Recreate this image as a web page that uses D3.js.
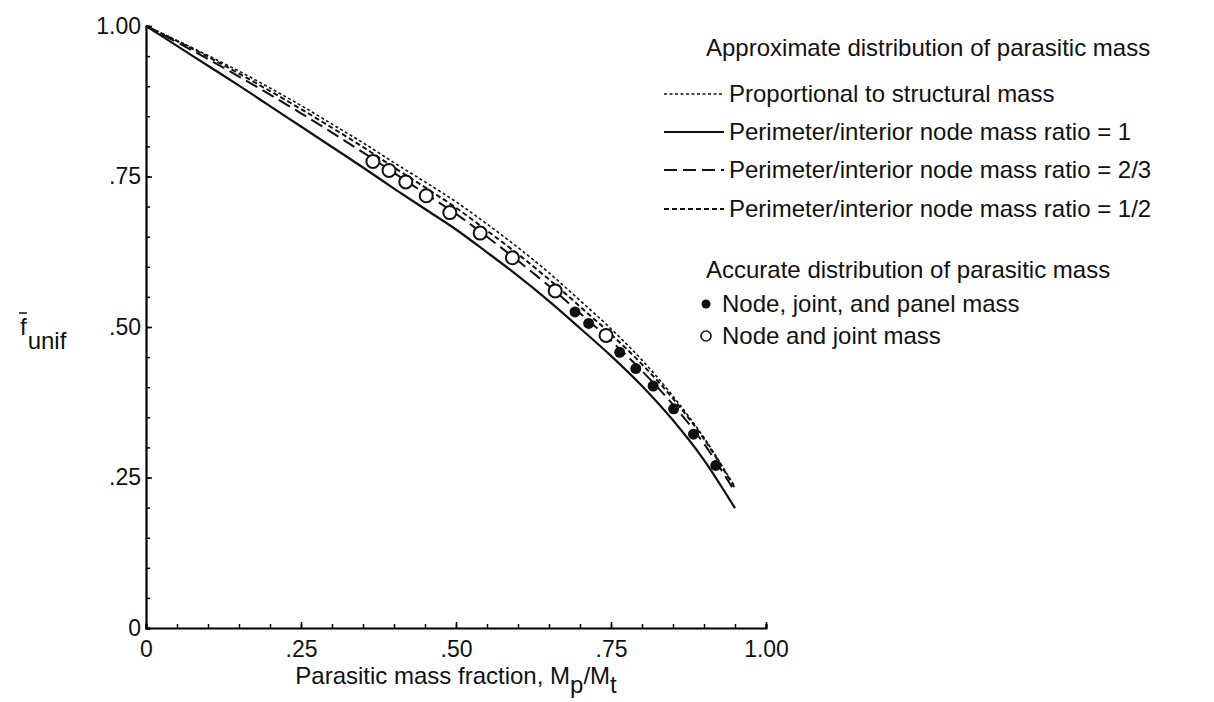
<!DOCTYPE html>
<html>
<head>
<meta charset="utf-8">
<script src="https://cdn.jsdelivr.net/npm/d3@7"></script>
<style>
  body { margin: 0; background: #fff; }
  svg text { font-family: "Liberation Sans", Arial, Helvetica, sans-serif; fill: #111; }
</style>
</head>
<body>
<div id="chart"></div>
<script>
// parasitic mass fraction Mp/Mt (x) for the approximate curves
const massFrac = [0, 0.05, 0.10, 0.15, 0.20, 0.25, 0.30, 0.35, 0.40, 0.45,
  0.50, 0.55, 0.60, 0.65, 0.70, 0.75, 0.80, 0.85, 0.90, 0.95];

// approximate distributions of parasitic mass
const propStruct = [1.000, 0.976, 0.951, 0.925, 0.897, 0.868, 0.837, 0.806, 0.773, 0.741,
  0.708, 0.671, 0.632, 0.590, 0.544, 0.497, 0.445, 0.385, 0.316, 0.234];
const ratioOne = [1.000, 0.967, 0.934, 0.901, 0.867, 0.833, 0.799, 0.765, 0.730, 0.696,
  0.662, 0.624, 0.585, 0.543, 0.498, 0.452, 0.402, 0.345, 0.279, 0.199];
const ratioTwoThirds = [1.000, 0.973, 0.945, 0.916, 0.886, 0.855, 0.823, 0.790, 0.756, 0.722,
  0.688, 0.650, 0.610, 0.568, 0.523, 0.477, 0.427, 0.371, 0.306, 0.226];
const ratioHalf = [1.000, 0.975, 0.949, 0.921, 0.892, 0.862, 0.831, 0.799, 0.765, 0.732,
  0.698, 0.660, 0.621, 0.579, 0.534, 0.488, 0.438, 0.381, 0.314, 0.232];

// accurate distributions (symbols)
const panelX = [0.692, 0.714, 0.764, 0.790, 0.818, 0.851, 0.883, 0.919];
const panelY = [0.525, 0.506, 0.458, 0.431, 0.402, 0.364, 0.322, 0.270];
const jointX = [0.366, 0.392, 0.419, 0.452, 0.490, 0.539, 0.591, 0.660, 0.742];
const jointY = [0.775, 0.760, 0.741, 0.718, 0.690, 0.656, 0.615, 0.560, 0.486];

const majorTicks = [0, 0.25, 0.5, 0.75, 1];
const tickLabels = ['0', '.25', '.50', '.75', '1.00'];
const minorTicks = d3.range(0, 1.0001, 0.05);

const width = 1214, height = 702;
const tickFont = 23;
const textFont = 24;

const svg = d3.select('#chart').append('svg')
  .attr('width', width).attr('height', height);

const x = d3.scaleLinear().domain([0, 1]).range([146, 766]);
const y = d3.scaleLinear().domain([0, 1]).range([628, 26]);

// axes, ticks pointing inward
const fmt = (d) => tickLabels[majorTicks.indexOf(d)];

const xAxis = svg.append('g').attr('transform', `translate(0,${y(0)})`);
xAxis.call(d3.axisBottom(x).tickValues(minorTicks).tickSize(-4).tickFormat(''));
xAxis.call((g) => g.selectAll('.tick line').attr('stroke-width', 1.5));
xAxis.select('.domain').attr('stroke-width', 2.2);
const xLab = svg.append('g').attr('transform', `translate(0,${y(0)})`)
  .call(d3.axisBottom(x).tickValues(majorTicks).tickSize(-6).tickPadding(13).tickFormat(fmt));
xLab.select('.domain').remove();
xLab.selectAll('.tick line').attr('stroke-width', 1.5);
xLab.selectAll('text').attr('font-size', tickFont).attr('fill', '#111');

const yAxis = svg.append('g').attr('transform', `translate(${x(0)},0)`);
yAxis.call(d3.axisLeft(y).tickValues(minorTicks).tickSize(-4).tickFormat(''));
yAxis.call((g) => g.selectAll('.tick line').attr('stroke-width', 1.5));
yAxis.select('.domain').attr('stroke-width', 2.2);
const yLab = svg.append('g').attr('transform', `translate(${x(0)},0)`)
  .call(d3.axisLeft(y).tickValues(majorTicks).tickSize(-6).tickPadding(5).tickFormat(fmt));
yLab.select('.domain').remove();
yLab.selectAll('.tick line').attr('stroke-width', 1.5);
yLab.selectAll('text').attr('font-size', tickFont).attr('fill', '#111');

// curves
const series = [
  { name: 'Proportional to structural mass', values: propStruct, dash: '3,2.5', w: 1.6 },
  { name: 'Perimeter/interior node mass ratio = 1', values: ratioOne, dash: null, w: 2.2 },
  { name: 'Perimeter/interior node mass ratio = 2/3', values: ratioTwoThirds, dash: '13,6', w: 2 },
  { name: 'Perimeter/interior node mass ratio = 1/2', values: ratioHalf, dash: '5,3', w: 2 },
];

const line = d3.line()
  .x((d) => x(d[0]))
  .y((d) => y(d[1]))
  .curve(d3.curveMonotoneX);

svg.append('g').selectAll('path')
  .data(series)
  .enter()
  .append('path')
  .attr('d', (s) => line(massFrac.map((m, i) => [m, s.values[i]])))
  .attr('fill', 'none')
  .attr('stroke', '#111')
  .attr('stroke-width', (s) => s.w)
  .attr('stroke-dasharray', (s) => s.dash);

// symbols
svg.append('g').selectAll('circle')
  .data(panelX.map((v, i) => [v, panelY[i]]))
  .enter()
  .append('circle')
  .attr('cx', (d) => x(d[0]))
  .attr('cy', (d) => y(d[1]))
  .attr('r', 5.5)
  .attr('fill', '#111');

svg.append('g').selectAll('circle')
  .data(jointX.map((v, i) => [v, jointY[i]]))
  .enter()
  .append('circle')
  .attr('cx', (d) => x(d[0]))
  .attr('cy', (d) => y(d[1]))
  .attr('r', 6.5)
  .attr('fill', '#fff')
  .attr('stroke', '#111')
  .attr('stroke-width', 2);

// axis titles
const yTitle = svg.append('g').attr('font-size', textFont);
yTitle.append('text').attr('x', 20).attr('y', 335).text('f')
  .append('tspan').attr('dy', 14).attr('dx', 1).text('unif');
yTitle.append('line')
  .attr('x1', 19).attr('x2', 27).attr('y1', 313).attr('y2', 313)
  .attr('stroke', '#111').attr('stroke-width', 1.5);

const xTitle = svg.append('text')
  .attr('x', x(0.5)).attr('y', 684)
  .attr('text-anchor', 'middle')
  .attr('font-size', textFont);
xTitle.append('tspan').text('Parasitic mass fraction, M');
xTitle.append('tspan').attr('dy', 9).text('p');
xTitle.append('tspan').attr('dy', -9).text('/M');
xTitle.append('tspan').attr('dy', 9).text('t');

// legend
const legend = svg.append('g').attr('font-size', textFont);
legend.append('text').attr('x', 706).attr('y', 56).text('Approximate distribution of parasitic mass');

const rowY = [102, 140, 178, 217];
series.forEach((s, i) => {
  legend.append('line')
    .attr('x1', 664).attr('x2', 724)
    .attr('y1', rowY[i] - 8).attr('y2', rowY[i] - 8)
    .attr('stroke', '#111')
    .attr('stroke-width', s.w)
    .attr('stroke-dasharray', s.dash);
  legend.append('text').attr('x', 729).attr('y', rowY[i]).text(s.name);
});

legend.append('text').attr('x', 706).attr('y', 278).text('Accurate distribution of parasitic mass');
legend.append('circle').attr('cx', 706).attr('cy', 304).attr('r', 4.5).attr('fill', '#111');
legend.append('text').attr('x', 722).attr('y', 312).text('Node, joint, and panel mass');
legend.append('circle').attr('cx', 706).attr('cy', 336).attr('r', 5)
  .attr('fill', '#fff').attr('stroke', '#111').attr('stroke-width', 1.6);
legend.append('text').attr('x', 722).attr('y', 344).text('Node and joint mass');
</script>
</body>
</html>
